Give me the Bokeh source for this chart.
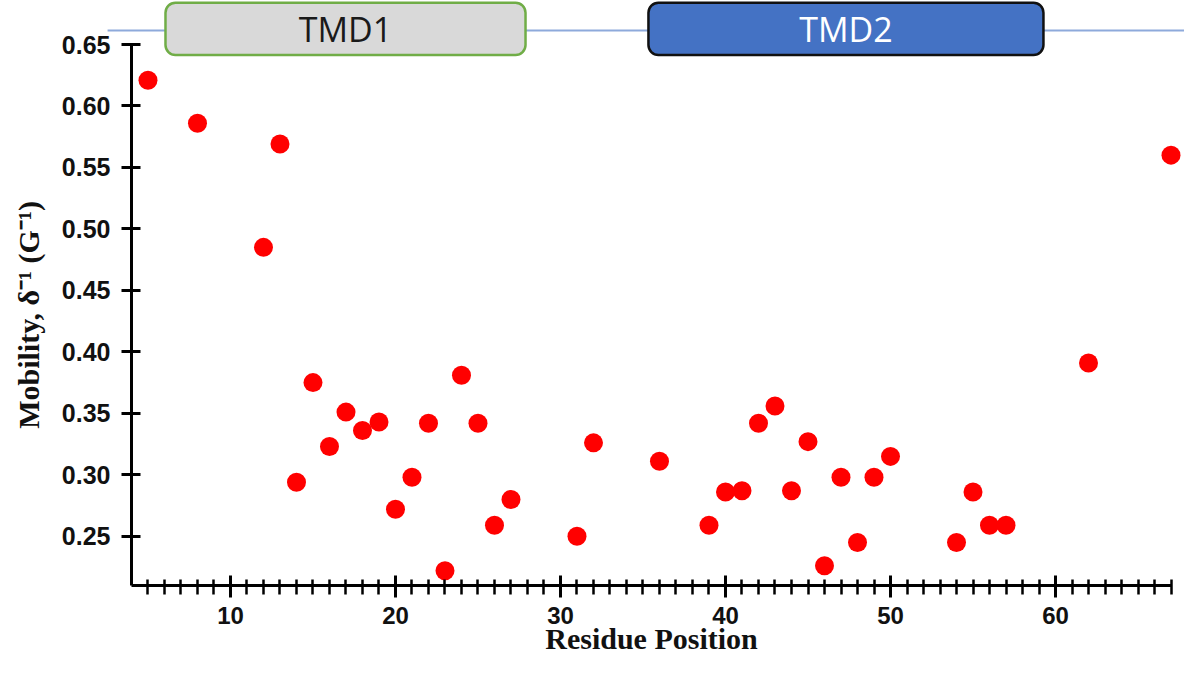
from bokeh.plotting import figure
from bokeh.models import (LinearAxis, Range1d, FixedTicker, NumeralTickFormatter,
                          BoxAnnotation, Label, ColumnDataSource)
from bokeh.embed import file_html
from bokeh.resources import INLINE

# ---- data ----
residue = [5, 8, 12, 13, 14, 15, 16, 17, 18, 19, 20, 21, 22, 23, 24, 25, 26, 27,
           31, 32, 36, 39, 40, 41, 42, 43, 44, 45, 46, 47, 48, 49, 50,
           54, 55, 56, 57, 62, 67]
mobility = [0.621, 0.586, 0.485, 0.569, 0.294, 0.375, 0.323, 0.351, 0.336, 0.343,
            0.272, 0.298, 0.342, 0.222, 0.381, 0.342, 0.259, 0.280,
            0.250, 0.326, 0.311, 0.259, 0.286, 0.287, 0.342, 0.356, 0.287, 0.327,
            0.226, 0.298, 0.245, 0.298, 0.315, 0.245, 0.286, 0.259, 0.259, 0.391, 0.560]

domain_names = ["TMD1", "TMD2"]
domain_start = [6.06, 35.33]
domain_end = [27.88, 59.27]

x_major_ticks = [10, 20, 30, 40, 50, 60]
x_minor_ticks = list(range(5, 68))
y_ticks = [0.25, 0.30, 0.35, 0.40, 0.45, 0.50, 0.55, 0.60, 0.65]

x_label = "Residue Position"
y_label = "Mobility, δ⁻¹ (G⁻¹)"

# ---- figure ----
W, H = 1184, 660
p = figure(width=W, height=H, output_backend="svg", toolbar_location=None,
           x_range=Range1d(-3.939, 67.818), y_range=Range1d(0.14898, 0.68579),
           x_axis_location=None, y_axis_location=None, min_border=0)
p.outline_line_color = None
p.grid.visible = False
p.background_fill_color = "white"

# domain bar (line + boxes)
p.line(x=[2.55, 69.5], y=[0.6614, 0.6614], line_color="#8eaadb", line_width=2)

box_styles = [dict(fill_color="#d9d9d9", line_color="#70ad47", text_color="#1a1a1a"),
              dict(fill_color="#4472c4", line_color="#111111", text_color="#ffffff")]
for name, s, e, st in zip(domain_names, domain_start, domain_end, box_styles):
    p.add_layout(BoxAnnotation(left=s, right=e, top=0.6840, bottom=0.6415,
                               fill_color=st["fill_color"], fill_alpha=1.0,
                               line_color=st["line_color"], line_alpha=1.0,
                               line_width=2.5, border_radius=10, level="glyph"))
    p.add_layout(Label(x=(s + e) / 2, y=0.6630, text=name, text_align="center",
                       text_baseline="middle", text_font="Open Sans",
                       text_font_size="34px", text_color=st["text_color"]))

# points
src = ColumnDataSource(dict(x=residue, y=mobility))
p.scatter("x", "y", source=src, size=19, fill_color="#ff0000", line_color=None)

# axes
xaxis = LinearAxis(fixed_location=0.21, bounds=(4, 67),
                   ticker=FixedTicker(ticks=x_major_ticks, minor_ticks=x_minor_ticks),
                   axis_label=x_label)
xaxis.axis_line_width = 3
xaxis.major_tick_line_width = 3
xaxis.minor_tick_line_width = 2.5
xaxis.major_tick_in = 10
xaxis.major_tick_out = 12
xaxis.minor_tick_in = 6
xaxis.minor_tick_out = 9
xaxis.major_label_text_font = "Liberation Sans"
xaxis.major_label_text_font_style = "bold"
xaxis.major_label_text_font_size = "24px"
xaxis.major_label_text_color = "#111111"
xaxis.major_label_standoff = 10
xaxis.axis_label_text_font = "Liberation Serif"
xaxis.axis_label_text_font_style = "bold"
xaxis.axis_label_text_font_size = "30px"
xaxis.axis_label_text_color = "#111111"
xaxis.axis_label_standoff = -6
p.add_layout(xaxis, "below")

yaxis = LinearAxis(fixed_location=4, bounds=(0.21, 0.65),
                   ticker=FixedTicker(ticks=y_ticks, minor_ticks=[]),
                   formatter=NumeralTickFormatter(format="0.00"),
                   axis_label=y_label)
yaxis.axis_line_width = 3
yaxis.major_tick_line_width = 3
yaxis.major_tick_in = 9
yaxis.major_tick_out = 10
yaxis.minor_tick_in = 0
yaxis.minor_tick_out = 0
yaxis.major_label_text_font = "Liberation Sans"
yaxis.major_label_text_font_style = "bold"
yaxis.major_label_text_font_size = "25px"
yaxis.major_label_text_color = "#111111"
yaxis.major_label_standoff = 11
yaxis.axis_label_text_font = "Liberation Serif"
yaxis.axis_label_text_font_style = "bold"
yaxis.axis_label_text_font_size = "30px"
yaxis.axis_label_text_color = "#111111"
yaxis.axis_label_standoff = 14
p.add_layout(yaxis, "left")

open("out.html", "w").write(file_html(p, INLINE))
